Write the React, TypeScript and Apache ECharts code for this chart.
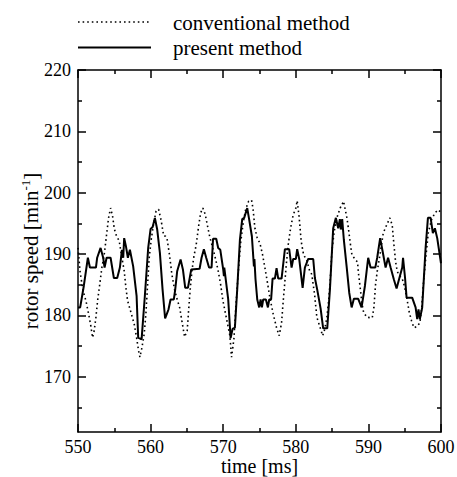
import React, { useEffect, useRef } from "react";
import * as echarts from "echarts";

const seriesNames = ["conventional method", "present method"];
const xAxisName = "time [ms]";
const yAxisName = "rotor speed [min{sup|-1}]";
const xMin = 550;
const xMax = 600;
const xInterval = 10;
const yMin = 161;
const yMax = 220;
const yMajorTicks = [170, 180, 190, 200, 210, 220];
const yMinorTicks = [165, 175, 185, 195, 205, 215];

const presentTime = [
  550.0, 550.3, 550.8, 551.36, 551.64, 552.47, 552.64, 553.11, 553.47, 553.66, 553.94, 554.49,
  554.94, 555.4, 555.77, 556.05, 556.23, 556.36, 556.6, 556.87, 557.15, 557.6, 558.07, 558.29,
  558.76, 559.21, 559.67, 560.0, 560.28, 560.59, 560.91, 561.28, 561.65, 562.0, 562.47, 562.75,
  563.2, 563.39, 563.66, 564.13, 564.45, 564.77, 565.14, 565.6, 566.75, 567.02, 567.34, 567.66,
  568.05, 568.4, 568.6, 569.04, 569.31, 569.6, 570.0, 570.1, 570.15, 570.69, 571.02, 571.29,
  571.61, 571.93, 572.3, 572.62, 572.89, 573.31, 573.58, 573.95, 574.23, 574.3, 574.45, 574.69,
  574.96, 575.15, 575.33, 575.51, 575.88, 576.16, 576.34, 576.6, 576.8, 577.12, 577.35, 577.58,
  578.04, 578.5, 579.09, 579.42, 579.64, 580.01, 580.19, 580.47, 580.94, 581.25, 581.71, 582.4,
  582.63, 582.95, 583.42, 583.77, 584.33, 584.7, 585.15, 585.52, 585.84, 586.07, 586.2, 586.39,
  586.62, 587.0, 587.36, 587.69, 588.0, 588.6, 589.06, 589.52, 589.97, 590.3, 590.95, 591.21,
  591.62, 591.95, 592.37, 592.71, 593.06, 593.5, 593.88, 594.25, 594.66, 594.77, 595.05, 595.26,
  596.03, 596.5, 596.72, 596.9, 597.09, 597.41, 597.88, 598.2, 598.57, 598.88, 599.16, 599.48,
  600.0,
];
const presentSpeed = [
  181.3, 181.3, 184.8, 189.4, 187.8, 187.8, 189.4, 191.0, 189.4, 187.8, 189.4, 189.4,
  186.1, 186.1, 187.8, 190.7, 189.4, 192.6, 191.3, 189.4, 190.7, 188.0, 183.2, 176.4,
  176.1, 183.2, 191.0, 194.1, 194.4, 195.9, 194.0, 190.2, 184.2, 179.5, 181.0, 182.6,
  182.6, 184.2, 187.2, 189.1, 187.5, 184.5, 184.5, 187.5, 187.6, 189.4, 190.8, 189.4,
  187.8, 187.8, 192.5, 192.5, 191.0, 190.7, 187.5, 186.4, 187.8, 182.6, 176.3, 177.8,
  178.0, 184.2, 192.3, 195.7, 195.9, 197.5, 195.6, 192.9, 188.0, 189.2, 185.9, 182.6,
  181.3, 182.6, 181.3, 182.6, 182.6, 181.3, 182.6, 182.6, 186.0, 186.0, 187.7, 186.0,
  186.0, 190.8, 190.8, 187.8, 189.2, 189.2, 190.8, 189.2, 184.5, 187.8, 189.2, 189.2,
  186.1, 184.2, 181.1, 177.9, 177.9, 184.2, 194.2, 195.9, 194.2, 195.7, 194.0, 195.7,
  192.3, 188.0, 183.7, 181.3, 182.7, 182.7, 181.3, 184.8, 189.4, 187.8, 187.8, 189.4,
  192.6, 190.5, 187.8, 189.4, 187.8, 185.9, 184.4, 186.0, 187.8, 189.4, 186.1, 182.9,
  182.9, 181.3, 179.4, 181.0, 179.4, 181.3, 191.0, 195.9, 195.9, 193.4, 194.2, 192.6,
  188.5,
];

const conventionalTime = [
  550.0, 550.3, 550.7, 551.09, 551.55, 551.78, 552.0, 552.23, 552.47, 552.7, 553.02, 553.29,
  553.61, 553.94, 554.21, 554.49, 554.76, 554.99, 555.22, 555.68, 556.05, 556.37, 556.6, 556.83,
  557.29, 557.74, 558.07, 558.35, 558.53, 558.8, 559.12, 559.35, 559.59, 559.81, 560.1, 560.4,
  560.75, 561.1, 561.45, 561.8, 562.05, 562.25, 562.6, 562.93, 563.3, 563.66, 564.0, 564.31,
  564.68, 565.04, 565.23, 565.45, 565.69, 565.96, 566.28, 566.61, 566.89, 567.2, 567.52, 567.8,
  568.13, 568.44, 568.81, 569.27, 569.64, 569.96, 570.47, 570.92, 571.15, 571.47, 571.75, 572.07,
  572.4, 572.75, 573.1, 573.5, 573.9, 574.1, 574.37, 574.69, 575.05, 575.42, 575.74, 576.06,
  576.43, 576.89, 577.35, 577.71, 578.04, 578.27, 578.5, 578.73, 578.95, 579.28, 579.64, 580.01,
  580.19, 580.47, 580.74, 581.07, 581.5, 581.9, 582.2, 582.59, 582.9, 583.36, 583.7, 584.0,
  584.28, 584.52, 584.74, 584.97, 585.29, 585.66, 586.11, 586.58, 587.04, 587.27, 587.5, 587.73,
  588.19, 588.5, 588.65, 588.87, 589.1, 589.34, 589.79, 590.53, 590.76, 590.99, 591.22, 591.68,
  592.04, 592.5, 592.96, 593.28, 593.51, 593.74, 593.97, 594.2, 594.66, 595.0, 595.4, 595.63,
  595.95, 596.27, 596.72, 597.09, 597.33, 597.55, 597.92, 598.24, 598.7, 599.16, 599.61, 600.0,
];
const conventionalSpeed = [
  191.0, 187.0, 184.0, 182.4, 179.7, 178.2, 176.4, 177.5, 179.7, 182.4, 185.3, 187.8,
  189.9, 193.2, 195.9, 197.5, 196.2, 194.2, 193.2, 192.1, 189.4, 187.2, 184.5, 182.4,
  180.5, 178.6, 176.4, 174.2, 173.2, 174.7, 177.0, 180.2, 185.1, 189.4, 192.5, 194.8,
  197.0, 197.3, 195.5, 193.0, 192.9, 192.6, 189.9, 186.7, 184.2, 182.6, 181.3, 179.1,
  176.5, 177.5, 180.7, 184.2, 187.2, 189.6, 191.5, 194.5, 196.7, 197.5, 196.5, 194.8,
  192.9, 191.5, 189.9, 187.5, 185.1, 182.4, 179.4, 176.7, 173.2, 176.1, 181.5, 187.0,
  191.8, 195.1, 197.3, 198.6, 198.8, 197.5, 194.2, 192.6, 191.8, 189.9, 187.8, 185.6,
  182.9, 180.2, 178.0, 176.7, 178.8, 182.4, 185.6, 188.8, 191.5, 194.2, 196.4, 197.5,
  198.7, 195.9, 192.1, 189.9, 189.0, 187.3, 186.7, 183.4, 179.7, 178.0, 176.7, 177.8,
  179.7, 182.4, 185.6, 190.5, 193.7, 195.9, 197.5, 198.6, 195.9, 194.0, 191.8, 189.9,
  189.1, 188.7, 186.7, 184.5, 182.1, 180.5, 179.7, 179.6, 181.3, 185.1, 187.2, 190.5,
  193.4, 194.7, 195.9, 194.7, 191.6, 188.8, 187.2, 186.6, 186.0, 184.6, 182.1, 180.5,
  179.1, 178.0, 178.2, 178.8, 181.1, 184.8, 189.6, 193.4, 195.6, 196.7, 197.2, 196.8,
];

const FONT = "Liberation Serif, Times New Roman, serif";
const BLACK = "#000";

export default function App() {
  const ref = useRef<HTMLDivElement>(null);

  useEffect(() => {
    if (!ref.current) return;
    const chart = echarts.init(ref.current, undefined, { renderer: "svg" });

    const lineStyle = { color: BLACK, width: 1.5 };
    const yBase = {
      type: "value",
      min: yMin,
      max: yMax,
      splitLine: { show: false },
    };
    const xBase = {
      type: "value",
      min: xMin,
      max: xMax,
      interval: xInterval,
      splitLine: { show: false },
      minorSplitLine: { show: false },
    };

    chart.setOption({
      animation: false,
      backgroundColor: "#fff",
      textStyle: { fontFamily: FONT },
      grid: {
        left: 78,
        right: 16,
        top: 70,
        bottom: 45,
        containLabel: false,
        outerBoundsMode: "none",
      },
      xAxis: [
        {
          ...xBase,
          position: "bottom",
          axisLine: { show: true, onZero: false, lineStyle },
          axisTick: { show: true, inside: true, length: 8, lineStyle },
          minorTick: { show: true, splitNumber: 2, length: 4, lineStyle },
          axisLabel: {
            show: true,
            margin: 6,
            fontSize: 18,
            lineHeight: 18,
            fontFamily: FONT,
            color: BLACK,
          },
          name: xAxisName,
          nameLocation: "middle",
          nameGap: 24,
          nameMoveOverlap: false,
          nameTextStyle: { fontSize: 20, lineHeight: 20, fontFamily: FONT, color: BLACK },
        },
        {
          ...xBase,
          position: "top",
          axisLine: { show: true, onZero: false, lineStyle },
          axisTick: { show: true, inside: true, length: 8, lineStyle },
          minorTick: { show: true, splitNumber: 2, length: 4, lineStyle },
          axisLabel: { show: false },
        },
      ],
      yAxis: [
        {
          ...yBase,
          position: "left",
          axisLine: { show: true, onZero: false, lineStyle },
          axisTick: { show: true, inside: true, length: 8, customValues: yMajorTicks, lineStyle },
          axisLabel: {
            show: true,
            customValues: yMajorTicks,
            margin: 7,
            fontSize: 18,
            fontFamily: FONT,
            color: BLACK,
          },
          name: yAxisName,
          nameLocation: "middle",
          nameGap: 35,
          nameMoveOverlap: false,
          nameTextStyle: {
            fontSize: 21,
            fontFamily: FONT,
            color: BLACK,
            lineHeight: 24,
            rich: {
              sup: { fontSize: 13, fontFamily: FONT, color: BLACK, verticalAlign: "top", lineHeight: 14 },
            },
          },
        },
        {
          ...yBase,
          position: "left",
          axisLine: { show: false },
          axisTick: { show: true, inside: true, length: 4, customValues: yMinorTicks, lineStyle },
          axisLabel: { show: false },
        },
        {
          ...yBase,
          position: "right",
          axisLine: { show: true, onZero: false, lineStyle },
          axisTick: { show: true, inside: true, length: 8, customValues: yMajorTicks, lineStyle },
          axisLabel: { show: false },
        },
        {
          ...yBase,
          position: "right",
          axisLine: { show: false },
          axisTick: { show: true, inside: true, length: 4, customValues: yMinorTicks, lineStyle },
          axisLabel: { show: false },
        },
      ],
      series: [
        {
          name: seriesNames[0],
          type: "line",
          xAxisIndex: 0,
          yAxisIndex: 0,
          data: conventionalTime.map((t, i) => [t, conventionalSpeed[i]]),
          symbol: "none",
          showSymbol: false,
          lineStyle: { color: BLACK, width: 1.6, type: [1.6, 3] },
        },
        {
          name: seriesNames[1],
          type: "line",
          xAxisIndex: 0,
          yAxisIndex: 0,
          data: presentTime.map((t, i) => [t, presentSpeed[i]]),
          symbol: "none",
          showSymbol: false,
          lineStyle: { color: BLACK, width: 2, type: "solid" },
        },
      ],
      graphic: [
        {
          type: "line",
          shape: { x1: 78, y1: 22, x2: 151, y2: 22 },
          style: { stroke: BLACK, lineWidth: 1.6, lineDash: [1.6, 3] },
        },
        {
          type: "text",
          x: 173,
          y: 23,
          style: {
            text: seriesNames[0],
            fontSize: 21,
            fontFamily: FONT,
            fill: BLACK,
            verticalAlign: "middle",
          },
        },
        {
          type: "line",
          shape: { x1: 78, y1: 47.5, x2: 151, y2: 47.5 },
          style: { stroke: BLACK, lineWidth: 2 },
        },
        {
          type: "text",
          x: 173,
          y: 48,
          style: {
            text: seriesNames[1],
            fontSize: 21,
            fontFamily: FONT,
            fill: BLACK,
            verticalAlign: "middle",
          },
        },
      ],
    });

    return () => chart.dispose();
  }, []);

  return (
    <div
      ref={ref}
      style={{ position: "fixed", left: 0, top: 0, width: 457, height: 477, background: "#fff" }}
    />
  );
}
